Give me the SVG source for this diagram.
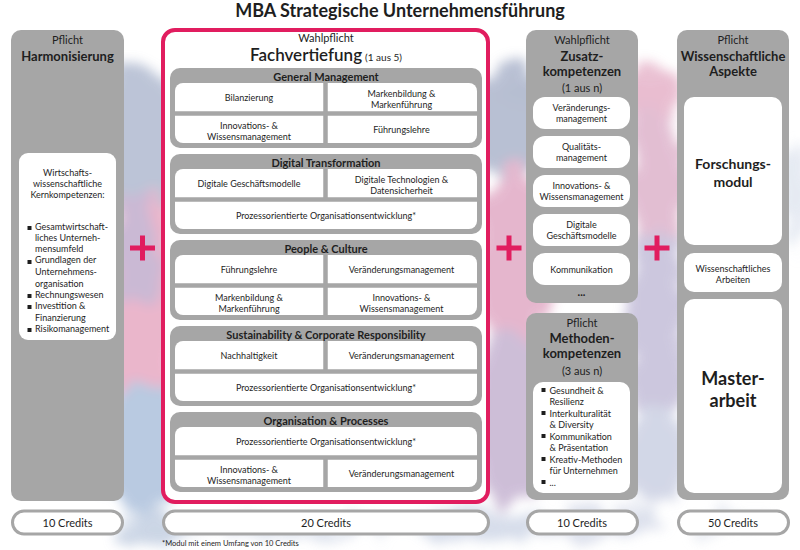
<svg xmlns="http://www.w3.org/2000/svg" width="800" height="550" viewBox="0 0 800 550">
<defs>
<filter id="wc" x="-30%" y="-30%" width="160%" height="160%">
<feTurbulence type="fractalNoise" baseFrequency="0.035" numOctaves="3" seed="7" result="n"/>
<feDisplacementMap in="SourceGraphic" in2="n" scale="40" xChannelSelector="R" yChannelSelector="G" result="d"/>
<feGaussianBlur in="d" stdDeviation="6"/>
</filter>
<style>
.box{fill:#a6a6a6}
.wh{fill:#fff}
.pill{fill:#fff;stroke:#a6a6a6;stroke-width:3}
.div{stroke:#a6a6a6;stroke-width:4.5}
.plus{fill:#e11d5f}
text{font-family:Lato,"Noto Sans","Open Sans",sans-serif;fill:#1e1e1e;text-anchor:middle}
.c{font-size:9px}
.sm{font-size:11px}
.h{font-size:11px;font-weight:bold}
.b{font-size:13px;font-weight:bold}
.l{text-anchor:start}
.cr{font-size:11px}
</style>
</defs>
<rect width="800" height="550" fill="#fff"/>
<g id="background" filter="url(#wc)" opacity="0.72">
<ellipse cx="140" cy="150" rx="42" ry="90" fill="#a3aec8"/>
<ellipse cx="142" cy="300" rx="44" ry="110" fill="#e39ab8"/>
<ellipse cx="138" cy="250" rx="25" ry="60" fill="#b79fc4"/>
<ellipse cx="145" cy="450" rx="45" ry="65" fill="#9fb6d6"/>
<ellipse cx="150" cy="530" rx="40" ry="15" fill="#b8c6dc"/>
<ellipse cx="470" cy="525" rx="60" ry="15" fill="#c7d0e3"/>
<ellipse cx="300" cy="528" rx="120" ry="10" fill="#d3dae8"/>
<ellipse cx="510" cy="120" rx="40" ry="60" fill="#9ea8c3"/>
<ellipse cx="512" cy="260" rx="40" ry="100" fill="#dc9bbb"/>
<ellipse cx="510" cy="420" rx="40" ry="90" fill="#bba6c9"/>
<ellipse cx="560" cy="95" rx="60" ry="22" fill="#9ba6c0"/>
<ellipse cx="640" cy="95" rx="40" ry="22" fill="#e1a5bf"/>
<ellipse cx="657" cy="180" rx="32" ry="70" fill="#d8a6c2"/>
<ellipse cx="657" cy="330" rx="32" ry="100" fill="#b9b2d2"/>
<ellipse cx="655" cy="460" rx="32" ry="50" fill="#c2c8de"/>
<ellipse cx="600" cy="525" rx="70" ry="14" fill="#d0d6e6"/>
<ellipse cx="740" cy="525" rx="50" ry="10" fill="#e2e6ef"/>
<ellipse cx="795" cy="200" rx="12" ry="60" fill="#dde3ee"/>
</g>
<text x="400" y="17" style="font-size:18px;font-weight:bold">MBA Strategische Unternehmensführung</text>

<g id="harmonisierung">
<rect class="box" x="11" y="30" width="113" height="471" rx="10"/>
<text class="sm" x="67.5" y="44">Pflicht</text>
<text class="b" x="67.5" y="61">Harmonisierung</text>
<rect class="wh" x="19" y="153" width="97" height="187" rx="9"/>
<text class="c" x="67.5" y="176">Wirtschafts-</text>
<text class="c" x="67.5" y="187">wissenschaftliche</text>
<text class="c" x="67.5" y="198">Kernkompetenzen:</text>
<g fill="#1e1e1e"><rect x="27.5" y="226" width="4" height="4"/><rect x="27.5" y="260" width="4" height="4"/><rect x="27.5" y="294" width="4" height="4"/><rect x="27.5" y="305" width="4" height="4"/><rect x="27.5" y="328" width="4" height="4"/></g>
<text class="c l" x="35" y="229.5">Gesamtwirtschaft-</text>
<text class="c l" x="35" y="241">liches Unterneh-</text>
<text class="c l" x="35" y="252">mensumfeld</text>
<text class="c l" x="35" y="263">Grundlagen der</text>
<text class="c l" x="35" y="274.5">Unternehmens-</text>
<text class="c l" x="35" y="286.5">organisation</text>
<text class="c l" x="35" y="297.5">Rechnungswesen</text>
<text class="c l" x="35" y="309">Investition &amp;</text>
<text class="c l" x="35" y="320.5">Finanzierung</text>
<text class="c l" x="35" y="331.5">Risikomanagement</text>
<rect class="pill" x="12.5" y="511" width="110" height="23" rx="11.5"/>
<text class="cr" x="67.5" y="526.5">10 Credits</text>
</g>

<g id="connectors">
<rect class="plus" x="130" y="245.5" width="25" height="5"/><rect class="plus" x="140" y="235.5" width="5" height="25"/>
<rect class="plus" x="496.5" y="245.5" width="25" height="5"/><rect class="plus" x="506.5" y="235.5" width="5" height="25"/>
<rect class="plus" x="644.5" y="245.5" width="25" height="5"/><rect class="plus" x="654.5" y="235.5" width="5" height="25"/>
</g>

<g id="fachvertiefung">
<rect x="163" y="30" width="325" height="472" rx="12" fill="#fff" stroke="#e11d5f" stroke-width="4"/>
<text class="sm" x="326" y="42">Wahlpflicht</text>
<text x="326" y="61"><tspan style="font-size:17px;font-weight:600">Fachvertiefung</tspan><tspan style="font-size:10px" dx="3">(1 aus 5)</tspan></text>
<rect class="pill" x="163.5" y="511" width="325" height="23" rx="11.5"/>
<text class="cr" x="326" y="526.5">20 Credits</text>
<text class="l" x="162" y="546" style="font-size:7.5px">*Modul mit einem Umfang von 10 Credits</text>
</g>

<g id="general-management">
<rect class="box" x="170" y="68" width="312" height="80" rx="10"/>
<text class="h" x="326" y="81">General Management</text>
<rect class="wh" x="175" y="83" width="302" height="60" rx="8"/>
<line class="div" x1="175" y1="113.5" x2="477" y2="113.5"/>
<line class="div" x1="325.5" y1="83" x2="325.5" y2="143"/>
<text class="c" x="249" y="100.5">Bilanzierung</text>
<text class="c" x="401.5" y="96.5">Markenbildung &amp;</text>
<text class="c" x="401.5" y="107.5">Markenführung</text>
<text class="c" x="249" y="129">Innovations- &amp;</text>
<text class="c" x="249" y="140">Wissensmanagement</text>
<text class="c" x="401.5" y="133">Führungslehre</text>
</g>

<g id="digital-transformation">
<rect class="box" x="170" y="154" width="312" height="80" rx="10"/>
<text class="h" x="326" y="167">Digital Transformation</text>
<rect class="wh" x="175" y="169" width="302" height="60" rx="8"/>
<line class="div" x1="175" y1="199.5" x2="477" y2="199.5"/>
<line class="div" x1="325.5" y1="169" x2="325.5" y2="199.5"/>
<text class="c" x="249" y="186.5">Digitale Geschäftsmodelle</text>
<text class="c" x="401.5" y="182.5">Digitale Technologien &amp;</text>
<text class="c" x="401.5" y="193.5">Datensicherheit</text>
<text class="c" x="326" y="219">Prozessorientierte Organisationsentwicklung*</text>
</g>

<g id="people-culture">
<rect class="box" x="170" y="240" width="312" height="80" rx="10"/>
<text class="h" x="326" y="253">People &amp; Culture</text>
<rect class="wh" x="175" y="255" width="302" height="60" rx="8"/>
<line class="div" x1="175" y1="285.5" x2="477" y2="285.5"/>
<line class="div" x1="325.5" y1="255" x2="325.5" y2="315"/>
<text class="c" x="249" y="272.5">Führungslehre</text>
<text class="c" x="401.5" y="272.5">Veränderungsmanagement</text>
<text class="c" x="249" y="301">Markenbildung &amp;</text>
<text class="c" x="249" y="312">Markenführung</text>
<text class="c" x="401.5" y="301">Innovations- &amp;</text>
<text class="c" x="401.5" y="312">Wissensmanagement</text>
</g>

<g id="sustainability">
<rect class="box" x="170" y="326" width="312" height="80" rx="10"/>
<text class="h" x="326" y="339">Sustainability &amp; Corporate Responsibility</text>
<rect class="wh" x="175" y="341" width="302" height="60" rx="8"/>
<line class="div" x1="175" y1="371.5" x2="477" y2="371.5"/>
<line class="div" x1="325.5" y1="341" x2="325.5" y2="371.5"/>
<text class="c" x="249" y="358.5">Nachhaltigkeit</text>
<text class="c" x="401.5" y="358.5">Veränderungsmanagement</text>
<text class="c" x="326" y="391">Prozessorientierte Organisationsentwicklung*</text>
</g>

<g id="organisation-processes">
<rect class="box" x="170" y="412" width="312" height="80" rx="10"/>
<text class="h" x="326" y="425">Organisation &amp; Processes</text>
<rect class="wh" x="175" y="427" width="302" height="60" rx="8"/>
<line class="div" x1="175" y1="457.5" x2="477" y2="457.5"/>
<line class="div" x1="325.5" y1="457.5" x2="325.5" y2="487"/>
<text class="c" x="326" y="444.5">Prozessorientierte Organisationsentwicklung*</text>
<text class="c" x="249" y="472.5">Innovations- &amp;</text>
<text class="c" x="249" y="483.5">Wissensmanagement</text>
<text class="c" x="401.5" y="476.5">Veränderungsmanagement</text>
</g>

<g id="zusatzkompetenzen">
<rect class="box" x="526" y="30" width="112" height="273" rx="10"/>
<text class="sm" x="582" y="44">Wahlpflicht</text>
<text class="b" x="582" y="61">Zusatz-</text>
<text class="b" x="582" y="76">kompetenzen</text>
<text class="sm" x="582" y="91.5">(1 aus n)</text>
<rect class="wh" x="533" y="97" width="97" height="32" rx="12"/>
<text class="c" x="581.5" y="111">Veränderungs-</text>
<text class="c" x="581.5" y="122">management</text>
<rect class="wh" x="533" y="136" width="97" height="32" rx="12"/>
<text class="c" x="581.5" y="150">Qualitäts-</text>
<text class="c" x="581.5" y="161">management</text>
<rect class="wh" x="533" y="175" width="97" height="32" rx="12"/>
<text class="c" x="581.5" y="189">Innovations- &amp;</text>
<text class="c" x="581.5" y="200">Wissensmanagement</text>
<rect class="wh" x="533" y="214" width="97" height="32" rx="12"/>
<text class="c" x="581.5" y="228">Digitale</text>
<text class="c" x="581.5" y="239">Geschäftsmodelle</text>
<rect class="wh" x="533" y="253" width="97" height="32" rx="12"/>
<text class="c" x="581.5" y="272.5">Kommunikation</text>
<text x="581.5" y="296" style="font-size:11px;font-weight:bold">...</text>
</g>

<g id="methodenkompetenzen">
<rect class="box" x="526" y="313" width="112" height="187" rx="10"/>
<text class="sm" x="582" y="327">Pflicht</text>
<text class="b" x="582" y="343">Methoden-</text>
<text class="b" x="582" y="358">kompetenzen</text>
<text class="sm" x="582" y="374.5">(3 aus n)</text>
<rect class="wh" x="533" y="382" width="97" height="111" rx="10"/>
<g fill="#1e1e1e"><rect x="541.5" y="388" width="4" height="4"/><rect x="541.5" y="411" width="4" height="4"/><rect x="541.5" y="434" width="4" height="4"/><rect x="541.5" y="457" width="4" height="4"/><rect x="541.5" y="480" width="4" height="4"/></g>
<text class="c l" x="549.5" y="393.5">Gesundheit &amp;</text>
<text class="c l" x="549.5" y="404.5">Resilienz</text>
<text class="c l" x="549.5" y="416.5">Interkulturalität</text>
<text class="c l" x="549.5" y="427.5">&amp; Diversity</text>
<text class="c l" x="549.5" y="439.5">Kommunikation</text>
<text class="c l" x="549.5" y="450.5">&amp; Präsentation</text>
<text class="c l" x="549.5" y="462.5">Kreativ-Methoden</text>
<text class="c l" x="549.5" y="473.5">für Unternehmen</text>
<text class="c l" x="549.5" y="485.5">...</text>
<rect class="pill" x="527.5" y="511" width="110" height="23" rx="11.5"/>
<text class="cr" x="582" y="526.5">10 Credits</text>
</g>

<g id="wissenschaftliche-aspekte">
<rect class="box" x="677" y="30" width="112" height="470" rx="10"/>
<text class="sm" x="733" y="44">Pflicht</text>
<text class="b" x="733" y="61">Wissenschaftliche</text>
<text class="b" x="733" y="76">Aspekte</text>
<rect class="wh" x="684" y="97" width="98" height="148" rx="10"/>
<text x="733" y="169" style="font-size:14px;font-weight:bold">Forschungs-</text>
<text x="733" y="187" style="font-size:14px;font-weight:bold">modul</text>
<rect class="wh" x="684" y="253" width="98" height="39" rx="10"/>
<text class="c" x="733" y="271.5">Wissenschaftliches</text>
<text class="c" x="733" y="282.5">Arbeiten</text>
<rect class="wh" x="684" y="299" width="98" height="194" rx="10"/>
<text x="733" y="384.5" style="font-size:18px;font-weight:bold">Master-</text>
<text x="733" y="406.5" style="font-size:18px;font-weight:bold">arbeit</text>
<rect class="pill" x="678.5" y="511" width="110" height="23" rx="11.5"/>
<text class="cr" x="733" y="526.5">50 Credits</text>
</g>
</svg>
